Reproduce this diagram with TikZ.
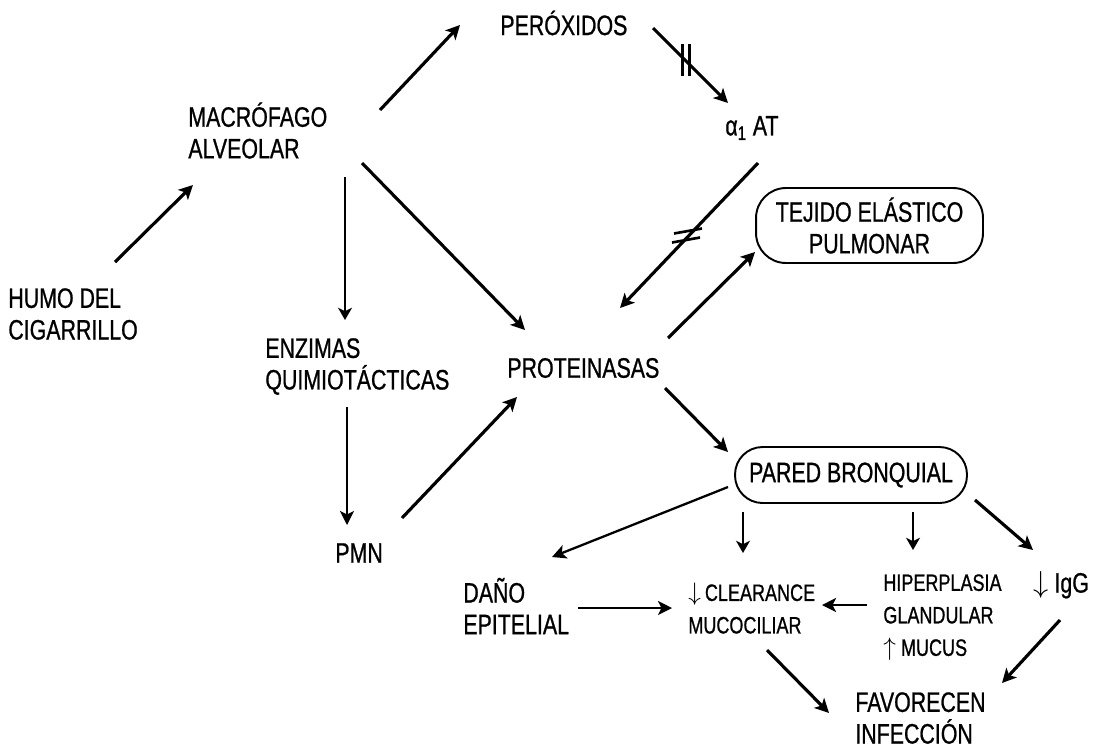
\documentclass[tikz,border=0pt]{standalone}
\usepackage{fontspec}
\setmainfont{Liberation Sans}[FakeStretch=0.76,FakeBold=0.8]
\usetikzlibrary{arrows.meta,calc}
\newcommand{\dn}{\ensuremath{\downarrow}}
\newcommand{\upar}{\ensuremath{\uparrow}}
\tikzset{
  lbl/.style={anchor=west, inner sep=0pt, align=left, font=\fontsize{16}{18}\selectfont},
  slbl/.style={anchor=west, inner sep=0pt, align=left, font=\fontsize{13.5}{18.5}\selectfont},
  boxn/.style={draw, line width=1.1pt, inner sep=0pt, align=center, font=\fontsize{16}{18}\selectfont},
  thick arr/.style={line width=1.8pt, -{Stealth[length=8pt,width=8pt,inset=2pt]}},
  mid arr/.style={line width=1.3pt, -{Stealth[length=8pt,width=8pt,inset=2pt]}},
  thin arr/.style={line width=0.8pt, -{Stealth[length=7pt,width=8pt,inset=2pt]}},
  markline/.style={line width=1.5pt}
}
\begin{document}
\begin{tikzpicture}[x=0.02cm,y=-0.02cm]
\useasboundingbox (0,0) rectangle (1097,748);
% nodes
\node[lbl] (humo) at (8,314) {HUMO DEL\\CIGARRILLO};
\node[lbl] (macro) at (188,130.5) {MACRÓFAGO\\ALVEOLAR};
\node[lbl] (perox) at (500,23) {PERÓXIDOS};
\node[lbl] (alpha) at (725,128) {α\textsubscript{1} AT};
\node[boxn, minimum width=4.54cm, minimum height=1.5cm, rounded corners=0.6cm] (tejido) at (869.5,225.5) {TEJIDO ELÁSTICO\\PULMONAR};
\node[lbl] (enz) at (265,366.5) {ENZIMAS\\QUIMIOTÁCTICAS};
\node[lbl] (prot) at (507,368) {PROTEINASAS};
\node[lbl] (pmn) at (335,553) {PMN};
\node[boxn, minimum width=4.64cm, minimum height=1.12cm, rounded corners=0.55cm] (pared) at (851,475) {PARED BRONQUIAL};
\node[lbl] (dano) at (463,606) {DAÑO\\EPITELIAL};
\node[slbl] (clear) at (688,608.5) {\dn\,CLEARANCE\\MUCOCILIAR};
\node[slbl] (hiper) at (883,617.5) {HIPERPLASIA\\GLANDULAR\\\upar\ MUCUS};
\node[lbl] (igg) at (1033,585) {\dn\ IgG};
\node[lbl] (fav) at (855,718) {FAVORECEN\\INFECCIÓN};
% connectors
\draw[thick arr] ([shift={(107,-52)}]humo.west) -- ([shift={(5,54.5)}]macro.west);
\draw[thick arr] ([shift={(192,-20.5)}]macro.west) -- ([shift={(-40,2)}]perox.west);
\draw[thick arr] ([shift={(153,5)}]perox.west) -- ([shift={(3,-25)}]alpha.west)
  coordinate[pos=0.43] (m1);
\draw[markline] ([shift={(-3,-16)}]m1) -- ([shift={(-3,16)}]m1);
\draw[markline] ([shift={(4,-16)}]m1) -- ([shift={(4,16)}]m1);
\draw[thick arr] ([shift={(33,35)}]alpha.west) -- ([shift={(113,-60)}]prot.west)
  coordinate[pos=0.5] (m2);
\draw[markline] ([shift={(-15,-2)}]m2) -- ([shift={(13,-7)}]m2);
\draw[markline] ([shift={(-17,7)}]m2) -- ([shift={(11,2)}]m2);
\draw[thick arr] ([shift={(161,-30)}]prot.west) -- ([shift={(-114.5,26.5)}]tejido.center);
\draw[thick arr] ([shift={(174,32.5)}]macro.west) -- ([shift={(18,-38)}]prot.west);
\draw[thin arr] ([shift={(157,46.5)}]macro.west) -- ([shift={(80,-46.5)}]enz.west);
\draw[mid arr] ([shift={(82,40.5)}]enz.west) -- ([shift={(12,-28)}]pmn.west);
\draw[thick arr] ([shift={(67,-35)}]pmn.west) -- ([shift={(10,29)}]prot.west);
\draw[thick arr] ([shift={(158,20)}]prot.west) -- ([shift={(-123,-23)}]pared.center);
\draw[mid arr] ([shift={(-123,12)}]pared.center) -- ([shift={(89,-49)}]dano.west);
\draw[thin arr] ([shift={(-108,37)}]pared.center) -- ([shift={(55,-55.5)}]clear.west);
\draw[thin arr] ([shift={(62,37)}]pared.center) -- ([shift={(30,-67.5)}]hiper.west);
\draw[thick arr] ([shift={(124,25)}]pared.center) -- ([shift={(0,-35)}]igg.west);
\draw[mid arr] ([shift={(115,2)}]dano.west) -- ([shift={(-16,-0.5)}]clear.west);
\draw[mid arr] ([shift={(-16,-12.5)}]hiper.west) -- ([shift={(134,-3.5)}]clear.west);
\draw[thick arr] ([shift={(79,41.5)}]clear.west) -- ([shift={(-26,-5)}]fav.west);
\draw[thick arr] ([shift={(27,35)}]igg.west) -- ([shift={(147,-35)}]fav.west);
\end{tikzpicture}
\end{document}
